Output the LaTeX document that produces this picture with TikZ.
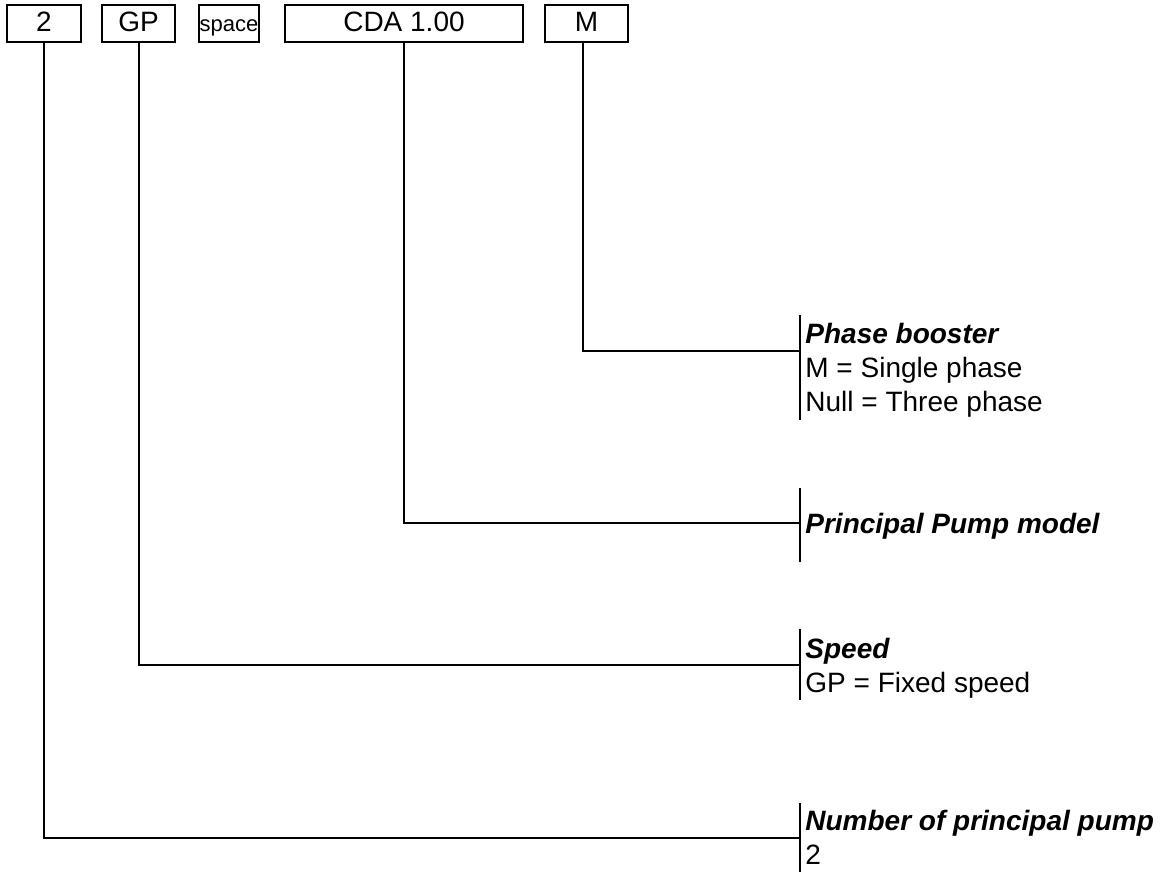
\documentclass[tikz,border=0pt]{standalone}
\usepackage{fontspec}
\setmainfont{Liberation Sans}
\usetikzlibrary{positioning}
\tikzstyle{code}=[draw,line width=1pt,minimum height=18.5pt,inner sep=0pt,text height=10pt,text depth=1.5pt,font=\fontsize{14}{17}\selectfont]
\tikzstyle{link} = [draw,line width=1pt,-]
\tikzstyle{bar} = [draw,line width=1pt,-]
\tikzstyle{title} = [anchor=base west,inner sep=0pt,font=\bfseries\itshape\fontsize{14}{17}\selectfont]
\tikzstyle{entry} = [anchor=base west,inner sep=0pt,font=\fontsize{14}{17}\selectfont]

\begin{document}
\begin{tikzpicture}[x=0.5pt,y=-0.5pt]
        \useasboundingbox (0,0) rectangle (1173,872);
        % code boxes
        \node[code,minimum width=37pt] (c2) at (44,23.5) {2};
        \node[code,minimum width=36.5pt] (cgp) at (138.5,23.5) {GP};
        \node[code,minimum width=30pt,font=\fontsize{11}{13}\selectfont] (cspace) at (229,23.5) {space};
        \node[code,minimum width=119pt] (ccda) at (404,23.5) {CDA 1.00};
        \node[code,minimum width=41.5pt] (cm) at (586.5,23.5) {M};

        % bars on the right
        \foreach \name/\top/\bot/\mid in {phase/315/420/351, model/488/562/523, speed/629/700/665, number/803/873/838}{
            \coordinate (\name top) at (800,\top);
            \coordinate (\name bot) at (800,\bot);
            \coordinate (\name mid) at (800,\mid);
            \path[bar] (\name top) -- (\name bot);
        }

        % labels
        \node[title] (tphase) at (805,343) {Phase booster};
        \node[entry] (ephase1) at (805,377) {M = Single phase};
        \node[entry] (ephase2) at (805,411) {Null = Three phase};
        \node[title] (tmodel) at (805,533) {Principal Pump model};
        \node[title] (tspeed) at (805,658) {Speed};
        \node[entry] (espeed) at (805,692) {GP = Fixed speed};
        \node[title] (tnumber) at (805,830) {Number of principal pump};
        \node[entry] (enumber) at (805,864) {2};

        % connectors
        \path[link] ([xshift=-2pt]cm.south) |- (phasemid);
        \path[link] (ccda.south) |- (modelmid);
        \path[link] (cgp.south) |- (speedmid);
        \path[link] (c2.south) |- (numbermid);
    \end{tikzpicture}
\end{document}
